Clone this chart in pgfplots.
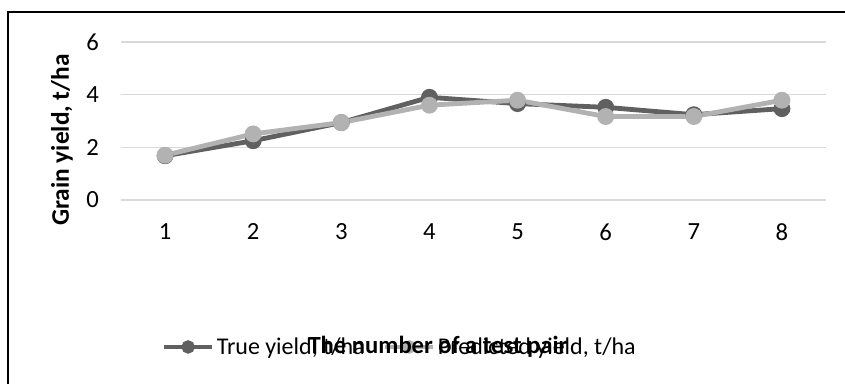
\documentclass[border=0pt]{standalone}
\usepackage{pgfplots}
\pgfplotsset{compat=1.18}
\usepackage{fontspec}
\setmainfont{Carlito}

\definecolor{trueC}{HTML}{606060}
\definecolor{predC}{HTML}{B2B2B2}
\definecolor{gridC}{HTML}{D9D9D9}

\begin{document}
\begin{tikzpicture}
    % frame (only top and left edges are in view); 1px = 0.75pt
    \draw[line width=1.2pt] (6pt,-20pt) -- (6pt,278.25pt) -- (650pt,278.25pt);

    \begin{axis}[
        at={(90.75pt,137.25pt)}, anchor=south west,
        scale only axis,
        width=528.75pt, height=118.5pt,
        xmin=0.5, xmax=8.5,
        ymin=0, ymax=6,
        xtick={1,...,8},
        ytick={0,2,4,6},
        ymajorgrids,
        grid style={gridC, line width=0.9pt},
        axis line style={draw=none},
        major tick length=0pt,
        clip=false,
        tick label style={font=\fontsize{18.5}{22}\selectfont},
        /pgf/number format/assume math mode=true,
        xticklabel style={yshift=-14pt},
        yticklabel style={xshift=-13pt},
        legend columns=2,
        legend style={
            draw=none, fill=none, inner sep=0pt,
            at={(0.058,-0.93)}, anchor=west,
            font=\fontsize{18}{22}\selectfont,
            nodes={inner sep=2pt},
            /tikz/every even column/.append style={column sep=12pt},
        },
        legend image code/.code={
            \draw[mark repeat=2, mark phase=2, #1, line width=3pt, mark size=3.5pt]
                plot coordinates {(0pt,0pt) (18pt,0pt) (36pt,0pt)};
        },
    ]
        \addplot[trueC, line width=3.6pt, mark=*, mark size=4.5pt,
                 mark options={solid, fill=trueC, draw=none}] coordinates {
            (1, 1.68) (2, 2.25) (3, 2.94) (4, 3.90)
            (5, 3.66) (6, 3.52) (7, 3.24) (8, 3.47)
        };
        \addlegendentry{True yield, t/ha}
        \addplot[predC, line width=3.6pt, mark=*, mark size=4.5pt,
                 mark options={solid, fill=predC, draw=none}] coordinates {
            (1, 1.70) (2, 2.51) (3, 2.94) (4, 3.60)
            (5, 3.79) (6, 3.17) (7, 3.17) (8, 3.79)
        };
        \addlegendentry{Predicted yield, t/ha}
    \end{axis}

    \node[font=\bfseries\fontsize{19}{23}\selectfont, rotate=90] at (46.5pt,182.25pt) {Grain yield, t/ha};
    \node[font=\bfseries\fontsize{18.5}{23}\selectfont] at (328.5pt,27pt) {The number of a test pair};

    \pgfresetboundingbox
    \useasboundingbox (0pt,0pt) rectangle (633.75pt,287.25pt);
\end{tikzpicture}
\end{document}
